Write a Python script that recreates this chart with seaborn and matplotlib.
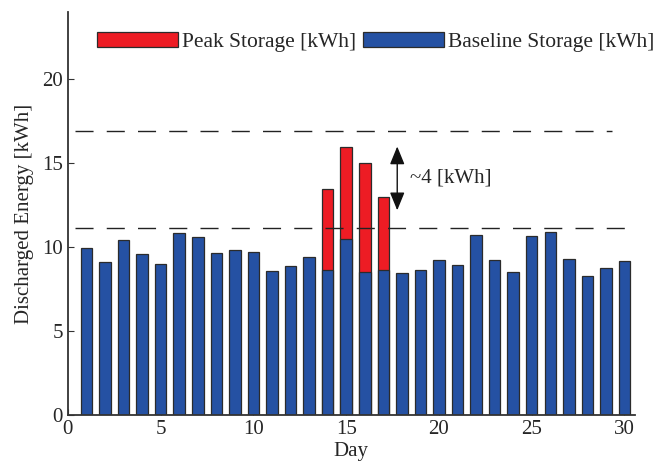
import matplotlib
matplotlib.use("Agg")
import matplotlib.pyplot as plt
import seaborn as sns
import numpy as np
import pandas as pd

# Daily discharged energy over one month
days = list(range(1, 31))
baseline_kwh = [9.95, 9.10, 10.42, 9.58, 9.03, 10.82, 10.61, 9.64, 9.84, 9.74,
                8.59, 8.89, 9.40, 8.67, 10.52, 8.55, 8.65, 8.49, 8.65, 9.27,
                8.93, 10.75, 9.25, 8.53, 10.69, 10.91, 9.29, 8.31, 8.75, 9.21]
# Days where peak storage was dispatched, with the total (baseline + peak)
peak_days = [14, 15, 16, 17]
peak_total_kwh = [13.49, 15.99, 15.00, 12.98]
# Reference levels: peak ceiling and baseline ceiling
ref_levels = [16.95, 11.13]
gap_label = "~4 [kWh]"

xticks = [0, 5, 10, 15, 20, 25, 30]
yticks = [0, 5, 10, 15, 20]

base_df = pd.DataFrame({"Day": days, "Energy": baseline_kwh})
peak_df = pd.DataFrame({"Day": peak_days, "Energy": peak_total_kwh})

sns.set_style("ticks")
plt.rcParams["font.family"] = ["Liberation Serif", "DejaVu Serif"]
plt.rcParams["xtick.direction"] = "in"
plt.rcParams["ytick.direction"] = "in"

RED = "#ED1C24"
BLUE = "#2551A3"
EDGE = "#2b2b2b"

fig = plt.figure(figsize=(6.66, 4.66), dpi=100)
ax = fig.add_axes([0.102, 0.109, 0.851, 0.865])

sns.barplot(data=peak_df, x="Day", y="Energy", native_scale=True, width=0.62,
            color=RED, saturation=1, edgecolor=EDGE, linewidth=0.9,
            label="Peak Storage [kWh]", ax=ax, errorbar=None)
sns.barplot(data=base_df, x="Day", y="Energy", native_scale=True, width=0.62,
            color=BLUE, saturation=1, edgecolor=EDGE, linewidth=0.9,
            label="Baseline Storage [kWh]", ax=ax, errorbar=None)

ax.hlines(ref_levels[0], 0.4, 29.35, colors="#222222", linewidth=1.0,
          linestyles=(0, (13, 9.5)))
ax.hlines(ref_levels[1], 0.4, 30.15, colors="#222222", linewidth=1.0,
          linestyles=(0, (13, 9.5)))

ax.annotate("", xy=(17.75, 16.0), xytext=(17.75, 12.2),
            arrowprops=dict(arrowstyle="<|-|>,head_length=1.1,head_width=0.45",
                            color="#111111", lw=1.0, shrinkA=0, shrinkB=0))
ax.text(18.45, 14.1, gap_label, fontsize=15, va="center", ha="left")

ax.set_xlim(0, 30.55)
ax.set_ylim(0, 24)
ax.set_xticks(xticks)
ax.set_xticklabels([str(t) for t in xticks])
ax.set_yticks(yticks)
ax.set_yticklabels([str(t) for t in yticks])
ax.tick_params(labelsize=15, length=4, width=0.8, color="#333333")
ax.set_xlabel("Day", fontsize=15, labelpad=2)
ax.set_ylabel("Discharged Energy [kWh]", fontsize=15, labelpad=6)
sns.despine(ax=ax)
for s in ("left", "bottom"):
    ax.spines[s].set_linewidth(1.3)
    ax.spines[s].set_color("#333333")

leg = ax.legend(loc="center left", bbox_to_anchor=(0.051, 0.925), ncol=2,
                frameon=False, fontsize=15.5, handlelength=3.75,
                handleheight=0.65, handletextpad=0.19, columnspacing=0.33,
                borderpad=0, borderaxespad=0)

fig.savefig("out.png", dpi=100)
